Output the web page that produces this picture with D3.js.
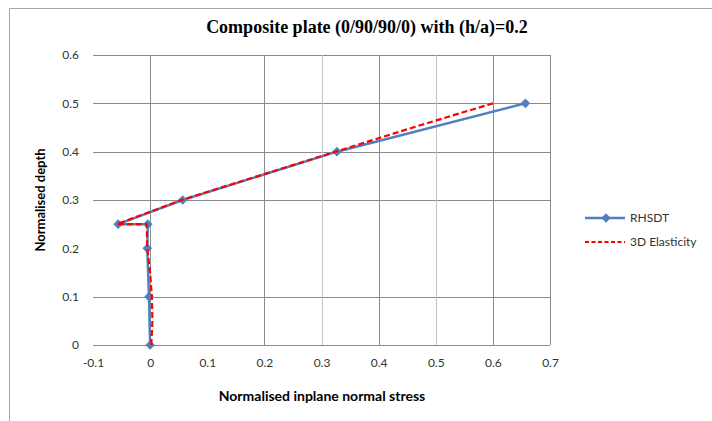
<!DOCTYPE html>
<html>
<head>
<meta charset="utf-8">
<script src="https://cdn.jsdelivr.net/npm/d3@7"></script>
<style>
  body { margin: 0; background: #fff; }
  text { font-family: Lato, "Open Sans", sans-serif; }
</style>
</head>
<body>
<svg id="chart" width="712" height="421"></svg>
<script>
// data
const rhsdtX = [0, -0.002, -0.005, -0.004, -0.056, 0.057, 0.327, 0.657];
const rhsdtY = [0, 0.1, 0.2, 0.25, 0.25, 0.3, 0.4, 0.5];
const elastX = [0.002, 0.004, 0.003, 0.0, -0.005, -0.006, -0.058, 0.055, 0.19, 0.325, 0.46, 0.6];
const elastY = [0, 0.05, 0.1, 0.15, 0.2, 0.25, 0.25, 0.3, 0.35, 0.4, 0.45, 0.5];
const xTicks = [-0.1, 0, 0.1, 0.2, 0.3, 0.4, 0.5, 0.6, 0.7];
const yTicks = [0, 0.1, 0.2, 0.3, 0.4, 0.5, 0.6];
// gridlines that the original does not show
const xGrid = [0, 0.2, 0.3, 0.4, 0.5, 0.6, 0.7];
const yGrid = [0, 0.1, 0.3, 0.4, 0.5, 0.6];

const svg = d3.select("#chart");

const x = d3.scaleLinear().domain([-0.1, 0.7]).range([93, 550]);
const y = d3.scaleLinear().domain([0, 0.6]).range([345, 55]);

const fmt = d => String(+d.toFixed(1));

// outer frame
svg.append("path")
    .attr("d", "M9.5,421V8.5H712")
    .attr("fill", "none")
    .attr("stroke", "#a6a6a6");

// title
svg.append("text")
    .attr("x", 367).attr("y", 33)
    .attr("text-anchor", "middle")
    .style("font-family", "'Liberation Serif', serif")
    .style("font-weight", "bold")
    .style("font-size", "18px")
    .text("Composite plate (0/90/90/0) with (h/a)=0.2");

// grid
svg.append("g").selectAll("line")
    .data(yGrid)
    .join("line")
    .attr("x1", x(-0.1)).attr("x2", x(0.7))
    .attr("y1", d => Math.round(y(d)) + 0.5).attr("y2", d => Math.round(y(d)) + 0.5)
    .attr("stroke", "#8a8a8a");

svg.append("g").selectAll("line")
    .data(xGrid)
    .join("line")
    .attr("x1", d => Math.round(x(d)) + 0.5).attr("x2", d => Math.round(x(d)) + 0.5)
    .attr("y1", y(0.6)).attr("y2", y(0))
    .attr("stroke", d => (d === 0.3 || d === 0.5) ? "#c4c4c4" : "#8a8a8a");

// axes (labels only, Excel style)
const xAxis = svg.append("g")
    .attr("transform", `translate(0,${y(0) + 10})`)
    .call(d3.axisBottom(x).tickValues(xTicks).tickSize(0).tickFormat(fmt));
xAxis.select(".domain").remove();
xAxis.selectAll("text").style("font-size", "12px").attr("fill", "#333");

const yAxis = svg.append("g")
    .attr("transform", "translate(82,0)")
    .call(d3.axisLeft(y).tickValues(yTicks).tickSize(0).tickFormat(fmt));
yAxis.select(".domain").remove();
yAxis.selectAll("text").style("font-size", "12px").attr("fill", "#333");

// axis titles
svg.append("text")
    .attr("x", 322).attr("y", 401)
    .attr("text-anchor", "middle")
    .style("font-weight", "bold").style("font-size", "14px")
    .text("Normalised inplane normal stress");

svg.append("text")
    .attr("transform", "translate(45,200) rotate(-90)")
    .attr("text-anchor", "middle")
    .style("font-weight", "bold").style("font-size", "13px")
    .text("Normalised depth");

// series
const blue = "#4f81bd", red = "#ff0000";
const line = d3.line().x(d => x(d[0])).y(d => y(d[1]));

const rhsdt = rhsdtX.map((v, i) => [v, rhsdtY[i]]);
const elast = elastX.map((v, i) => [v, elastY[i]]);

svg.append("path")
    .attr("d", line(rhsdt))
    .attr("fill", "none").attr("stroke", blue).attr("stroke-width", 2.5)
    .attr("stroke-linejoin", "round");

const diamond = d3.symbol(d3.symbolSquare, 46);
svg.append("g").selectAll("path")
    .data(rhsdt)
    .join("path")
    .attr("d", diamond)
    .attr("transform", d => `translate(${x(d[0])},${y(d[1])}) rotate(45)`)
    .attr("fill", blue);

svg.append("path")
    .attr("d", line(elast))
    .attr("fill", "none").attr("stroke", red).attr("stroke-width", 2.2)
    .attr("stroke-dasharray", "6,3");

// legend
const lg = svg.append("g");
lg.append("line").attr("x1", 585).attr("x2", 625).attr("y1", 218).attr("y2", 218)
    .attr("stroke", blue).attr("stroke-width", 2.5);
lg.append("path").attr("d", diamond).attr("transform", "translate(606,218) rotate(45)").attr("fill", blue);
lg.append("text").attr("x", 630).attr("y", 222).style("font-size", "12px").attr("fill", "#333").text("RHSDT");
lg.append("line").attr("x1", 585).attr("x2", 625).attr("y1", 242).attr("y2", 242)
    .attr("stroke", red).attr("stroke-width", 2.2).attr("stroke-dasharray", "4,2.5");
lg.append("text").attr("x", 630).attr("y", 246).style("font-size", "12px").attr("fill", "#333").text("3D Elasticity");
</script>
</body>
</html>
